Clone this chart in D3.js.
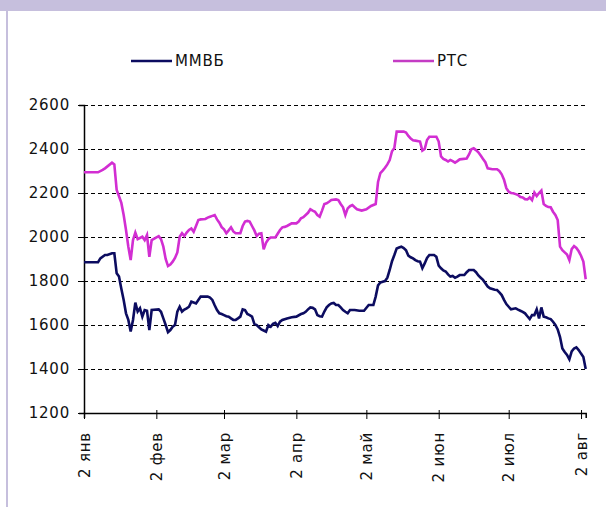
<!DOCTYPE html>
<html><head><meta charset="utf-8">
<script src="https://cdn.jsdelivr.net/npm/d3@7"></script>
<style>body{margin:0;background:#fff;}svg{display:block;font-family:"DejaVu Sans",Verdana,sans-serif;}</style>
</head><body>
<svg id="c" width="606" height="507"></svg>
<script>
// Year 2008, positions in day-of-year (Jan 1 = 1)
const year = 2008;
const tickDays = [2, 33, 62, 93, 123, 154, 184, 215];
const tickLabels = ["2 янв","2 фев","2 мар","2 апр","2 май","2 июн","2 июл","2 авг"];
const yTicks = [1200,1400,1600,1800,2000,2200,2400,2600];
const seriesNames = ["ММВБ","РТС"];

const rtsDays = [2,4,8,10,11,14,15,16,17,18,19,20,21,22,23,24,25,27,28,29,30,31,34,35,36,37,38,39,40,41,42,43,44,45,46,47,48,49,50,51,52,54,55,56,57,58,59,60,61,62,63,64,65,66,67,69,70,71,72,73,74,75,76,77,78,79,80,81,82,84,85,86,87,88,89,91,93,94,95,96,97,98,99,100,101,102,103,104,105,106,107,108,110,111,112,113,114,115,116,117,118,119,121,123,125,127,128,129,130,131,132,133,134,135,136,138,139,140,141,142,143,144,146,147,148,149,150,152,153,154,155,156,157,158,159,160,161,162,163,166,167,168,169,170,171,172,173,174,175,177,179,180,181,182,183,184,185,186,187,188,189,190,191,192,193,194,195,196,197,198,199,200,201,202,203,204,205,206,207,208,209,210,211,212,213,214,215,216,217];
const rtsValues = [2294,2294,2294,2305,2312,2338,2330,2214,2185,2155,2100,2032,1956,1895,1986,2020,1990,2001,1986,2009,1910,1986,2004,1990,1956,1900,1868,1875,1888,1905,1930,2001,2017,2004,2020,2032,2039,2024,2050,2077,2080,2082,2088,2092,2096,2100,2080,2065,2045,2035,2017,2030,2044,2025,2017,2017,2050,2070,2073,2070,2050,2030,2005,2015,2017,1944,1974,1990,1998,1998,2015,2032,2044,2046,2050,2062,2062,2070,2085,2090,2100,2110,2126,2120,2115,2100,2092,2120,2150,2153,2160,2168,2171,2168,2150,2135,2100,2130,2140,2145,2135,2126,2120,2126,2141,2150,2250,2290,2302,2315,2330,2350,2390,2405,2479,2479,2479,2475,2459,2448,2440,2438,2434,2393,2400,2441,2456,2456,2456,2434,2366,2355,2350,2343,2350,2345,2338,2345,2353,2357,2375,2399,2403,2395,2385,2370,2355,2340,2312,2308,2308,2300,2285,2260,2222,2206,2200,2199,2195,2191,2182,2180,2172,2171,2180,2168,2202,2186,2200,2211,2150,2141,2136,2135,2115,2100,2077,1956,1940,1930,1920,1895,1945,1959,1950,1935,1915,1888,1808];

const micexDays = [2,8,9,11,12,14,15,16,17,18,19,20,21,22,23,24,25,26,27,28,29,30,31,34,35,36,37,38,39,40,41,42,43,44,45,46,47,48,49,50,51,52,54,55,56,57,58,59,60,61,62,63,64,65,66,67,68,69,70,71,72,73,74,75,76,77,78,79,80,81,82,83,84,85,86,87,89,91,93,95,96,97,98,99,100,101,102,103,104,105,106,107,108,109,110,111,112,113,114,115,116,118,120,122,124,126,127,128,129,130,131,132,133,134,135,136,137,138,139,140,141,142,143,144,145,146,147,148,149,150,152,153,154,155,156,157,158,159,160,161,162,163,165,166,167,169,170,171,172,173,174,175,176,178,179,180,181,182,183,184,185,187,188,189,190,191,192,193,194,195,196,197,198,199,200,201,202,203,204,205,206,207,208,209,210,211,212,213,214,215,216,217];
const micexValues = [1885,1885,1903,1918,1918,1926,1926,1835,1820,1765,1714,1653,1623,1570,1623,1702,1661,1676,1638,1668,1665,1577,1668,1671,1660,1630,1600,1567,1577,1592,1600,1661,1683,1661,1670,1676,1683,1706,1702,1698,1714,1729,1729,1729,1725,1714,1690,1668,1653,1650,1645,1640,1638,1630,1623,1623,1630,1638,1671,1668,1650,1645,1638,1605,1600,1590,1580,1575,1570,1600,1592,1605,1610,1595,1615,1623,1630,1635,1638,1650,1653,1660,1671,1680,1678,1671,1645,1640,1638,1661,1680,1691,1698,1700,1691,1691,1680,1668,1660,1653,1668,1668,1665,1665,1691,1691,1729,1780,1793,1797,1800,1815,1850,1890,1918,1948,1952,1956,1950,1940,1915,1908,1903,1895,1890,1888,1858,1880,1905,1918,1918,1910,1870,1858,1848,1843,1830,1820,1823,1815,1820,1827,1827,1840,1850,1850,1840,1825,1815,1805,1790,1775,1767,1760,1759,1748,1736,1714,1695,1683,1671,1676,1670,1665,1660,1653,1640,1627,1645,1645,1671,1630,1680,1638,1635,1630,1627,1615,1600,1580,1545,1493,1477,1464,1444,1480,1493,1498,1486,1470,1455,1400];

const dayDate = d => new Date(year, 0, d);
const FONT = "DejaVu Sans, Verdana, sans-serif";

const svg = d3.select("#c");
// frame decorations
svg.append("rect").attr("x",0).attr("y",0).attr("width",606).attr("height",11).attr("fill","#c6bfdd");
svg.append("rect").attr("x",6).attr("y",0).attr("width",2).attr("height",507).attr("fill","#c6bfdd");

const x = d3.scaleTime().domain([dayDate(2), dayDate(217)]).range([84, 585.7]);
const y = d3.scaleLinear().domain([1200, 2600]).range([413, 105]);

// gridlines
svg.append("g").selectAll("line").data(yTicks.filter(v => v > 1200)).join("line")
  .attr("x1", 84).attr("x2", 586).attr("y1", d => Math.round(y(d)) + 0.5).attr("y2", d => Math.round(y(d)) + 0.5)
  .attr("stroke", "#000").attr("stroke-width", 1).attr("stroke-dasharray", "4,3");

// y axis
const yAxis = svg.append("g").attr("transform","translate(84,0)")
  .call(d3.axisLeft(y).tickValues(yTicks).tickSize(5).tickPadding(9).tickFormat(d3.format("d")));
yAxis.select(".domain").attr("stroke","#000").attr("stroke-width",1.5);
yAxis.selectAll(".tick line").attr("x2",-6).attr("x1",2).attr("stroke","#000");
yAxis.selectAll("text").attr("font-size","15px").attr("letter-spacing","0.8px").attr("fill","#111").attr("font-family",FONT);

// x axis
const xAxis = svg.append("g").attr("transform","translate(0,413)")
  .call(d3.axisBottom(x).tickValues(tickDays.map(dayDate)).tickSize(5).tickFormat((d,i) => tickLabels[i]));
xAxis.select(".domain").attr("stroke","#000").attr("stroke-width",1.5);
xAxis.selectAll(".tick line").attr("y1",-3).attr("y2",6).attr("stroke","#000");
xAxis.selectAll("text").attr("font-size","15px").attr("letter-spacing","0.8px").attr("fill","#111")
  .attr("font-family",FONT)
  .attr("transform","rotate(-90)").attr("text-anchor","end")
  .attr("x",-19).attr("y",0).attr("dy","0.35em");

// lines
const line = d3.line().x(d => x(dayDate(d[0]))).y(d => y(d[1]));
const rts = rtsDays.map((d,i) => [d, rtsValues[i]]);
const micex = micexDays.map((d,i) => [d, micexValues[i]]);
svg.append("path").datum(rts).attr("d", line).attr("fill","none")
  .attr("stroke","#d22ed2").attr("stroke-width",2.6).attr("stroke-linejoin","miter");
svg.append("path").datum(micex).attr("d", line).attr("fill","none")
  .attr("stroke","#0c0c60").attr("stroke-width",2.6).attr("stroke-linejoin","miter");

// legend
const legend = [{name: seriesNames[0], color:"#0c0c60", x:131}, {name: seriesNames[1], color:"#c43cc4", x:393}];
const lg = svg.append("g").selectAll("g").data(legend).join("g")
  .attr("transform", d => `translate(${d.x},61)`);
lg.append("line").attr("x1",0).attr("x2",41).attr("y1",0).attr("y2",0)
  .attr("stroke", d => d.color).attr("stroke-width",2.5);
lg.append("text").attr("x",44).attr("y",0).attr("dy","0.36em").attr("font-size","15px")
  .attr("letter-spacing","0.8px").attr("fill","#111").attr("font-family",FONT)
  .text(d => d.name);
</script>
</body></html>
